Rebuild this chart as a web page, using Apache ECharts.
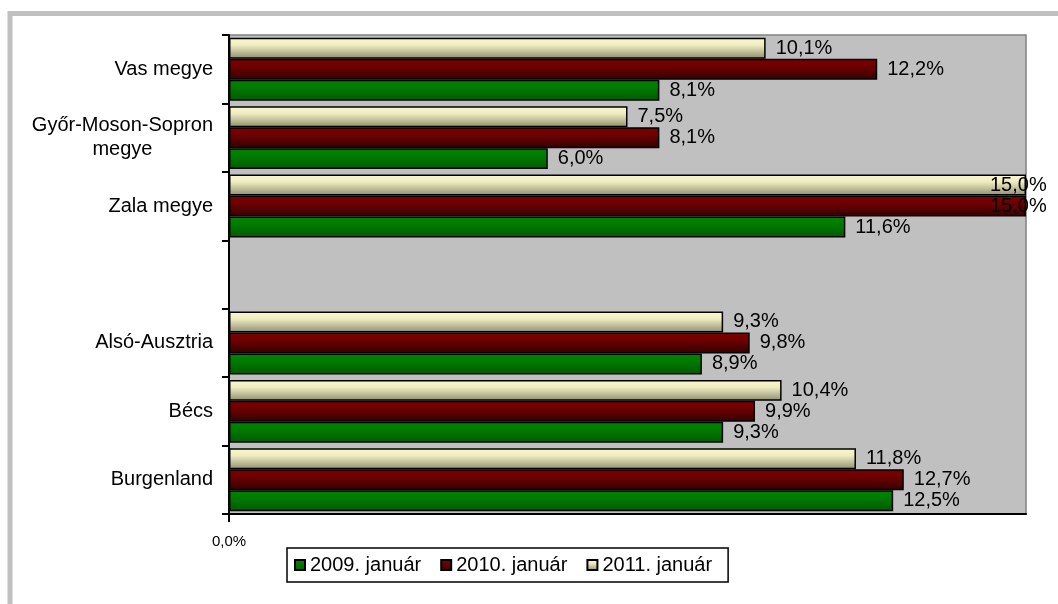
<!DOCTYPE html>
<html>
<head>
<meta charset="utf-8">
<script src="https://cdn.jsdelivr.net/npm/echarts@6/dist/echarts.min.js"></script>
<style>
html,body{margin:0;padding:0;background:#fff;}
#chart{width:1058px;height:604px;}
</style>
</head>
<body>
<div id="chart"></div>
<script>
const categories = ['Burgenland', 'Bécs', 'Alsó-Ausztria', '', 'Zala megye', 'Győr-Moson-Sopron\nmegye', 'Vas megye'];
const seriesNames = ['2009. január', '2010. január', '2011. január'];
const values2009 = [12.5, 9.3, 8.9, null, 11.6, 6.0, 8.1];
const values2010 = [12.7, 9.9, 9.8, null, 15.0, 8.1, 12.2];
const values2011 = [11.8, 10.4, 9.3, null, 15.0, 7.5, 10.1];
const xAxisMin = 0;
const xAxisMax = 15;
const xTickValues = [0];

const FONT = "'Liberation Sans', Arial, sans-serif";
function grad(top, mid, bottom) {
  return new echarts.graphic.LinearGradient(0, 0, 0, 1, [
    {offset: 0, color: top}, {offset: 0.35, color: mid}, {offset: 1, color: bottom}
  ]);
}
const colors = [
  grad('#008400', '#007c00', '#005a00'),
  grad('#7c0000', '#700000', '#340000'),
  grad('#fbf8d0', '#efecc0', '#8e8e70')
];
function fmt(v) { return v.toFixed(1).replace('.', ',') + '%'; }
function buildData(arr) {
  return arr.map(v => {
    if (v === null) return null;
    if (v >= xAxisMax) return {value: v, label: {offset: [-46, 0]}};
    return v;
  });
}
const valueSets = [values2009, values2010, values2011];
// ECharts stacks horizontal bars top-down in series order; reverse so 2009 sits at the bottom
const series = seriesNames.map((name, i) => ({
  name: name,
  type: 'bar',
  data: buildData(valueSets[i]),
  barGap: '0%',
  barCategoryGap: '8%',
  itemStyle: {color: colors[i], borderColor: '#000', borderWidth: 1.5},
  label: {
    show: true, position: 'right', distance: 10,
    color: '#000', fontFamily: FONT, fontSize: 20,
    formatter: p => fmt(p.value)
  },
  emphasis: {disabled: true}
})).reverse();

const chart = echarts.init(document.getElementById('chart'));
chart.setOption({
  animation: false,
  backgroundColor: '#fff',
  graphic: [{
    type: 'rect', shape: {x: 10, y: 13.5, width: 2000, height: 2000},
    style: {fill: null, stroke: '#c0c0c0', lineWidth: 5}, silent: true, z: -10
  }],
  grid: {
    left: 229, right: 32, top: 35, bottom: 90,
    show: true, backgroundColor: '#c0c0c0', borderColor: '#808080', borderWidth: 1.5
  },
  legend: {
    left: 287, top: 548,
    data: seriesNames,
    orient: 'horizontal',
    itemWidth: 10, itemHeight: 10, itemGap: 19,
    icon: 'rect',
    padding: [7, 16, 7, 7],
    backgroundColor: '#fff', borderColor: '#000', borderWidth: 1.5, borderRadius: 0,
    textStyle: {color: '#000', fontFamily: FONT, fontSize: 20}
  },
  xAxis: {
    type: 'value', min: xAxisMin, max: xAxisMax, interval: xAxisMax - xAxisMin,
    splitLine: {show: false},
    axisLine: {show: true, lineStyle: {color: '#000', width: 2}},
    axisTick: {show: true, length: 8, lineStyle: {color: '#000', width: 2}, customValues: xTickValues},
    axisLabel: {
      show: true, margin: 20, color: '#000', fontFamily: FONT, fontSize: 15,
      customValues: xTickValues, formatter: v => fmt(v)
    }
  },
  yAxis: {
    type: 'category', data: categories,
    axisLine: {show: true, lineStyle: {color: '#000', width: 2}},
    axisTick: {show: true, length: 7, lineStyle: {color: '#000', width: 2}},
    axisLabel: {
      margin: 16, color: '#000', fontFamily: FONT, fontSize: 20, lineHeight: 24,
      formatter: v => v.indexOf('\n') >= 0 ? v.split('\n').map(s => '{c|' + s + '}').join('\n') : v,
      rich: {c: {align: 'center', fontFamily: FONT, fontSize: 20, lineHeight: 24, color: '#000'}}
    }
  },
  series: series
});
</script>
</body>
</html>
